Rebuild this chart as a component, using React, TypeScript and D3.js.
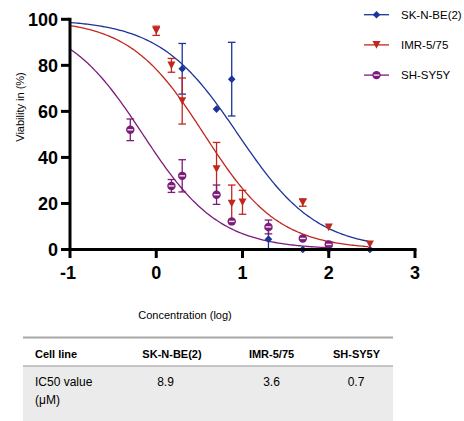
import React from "react";
import * as d3 from "d3";

// ---- data ----
const seriesNames = ["SK-N-BE(2)", "IMR-5/75", "SH-SY5Y"];
const seriesColors = ["#1c3399", "#c0281e", "#7a1c78"];

const skX = [0.301, 0.699, 0.875, 1.301, 1.699, 2.0, 2.477];
const skY = [78.5, 61, 74, 4.5, 0, 0, 0];
const skErr = [11, 0, 16, 4.5, 0, 0, 0];

const imrX = [0, 0.176, 0.301, 0.699, 0.875, 1.0, 1.699, 2.0, 2.477];
const imrY = [95, 80, 64.5, 35, 20, 20.5, 20.4, 9.6, 2.3];
const imrErr = [2, 3, 10, 11.5, 8, 5.2, 1.6, 0, 0];

const shX = [-0.301, 0.176, 0.301, 0.699, 0.875, 1.301, 1.699, 2.0];
const shY = [52, 27.6, 32, 23.8, 12.2, 9.8, 4.8, 2.2];
const shErr = [4.7, 2.8, 7, 4.2, 0, 3, 0, 1];

// fitted dose-response parameters
const fitLogIC50 = [0.949, 0.556, -0.155];
const fitHill = [0.95, 1.0, 0.98];
const fitXMax = [2.477, 2.477, 2.0];

const xTicks = [-1, 0, 1, 2, 3];
const yTicks = [0, 20, 40, 60, 80, 100];

const tableHeader = ["Cell line", "SK-N-BE(2)", "IMR-5/75", "SH-SY5Y"];
const tableRowLabel = ["IC50 value", "(\u03BCM)"];
const ic50Values = ["8.9", "3.6", "0.7"];

const FONT = "'Liberation Sans', Arial, sans-serif";

export default function App() {
  const x = d3.scaleLinear().domain([-1, 3]).range([70, 415]);
  const y = d3.scaleLinear().domain([0, 100]).range([249.5, 19.3]);

  const series = [
    { xs: skX, ys: skY, errs: skErr },
    { xs: imrX, ys: imrY, errs: imrErr },
    { xs: shX, ys: shY, errs: shErr },
  ];

  const line = d3
    .line<[number, number]>()
    .x((d) => x(d[0]))
    .y((d) => y(d[1]))
    .curve(d3.curveMonotoneX);

  const curvePath = (i: number) => {
    const pts: [number, number][] = d3
      .range(-1, fitXMax[i] + 0.0001, 0.02)
      .map((v) => [v, 100 / (1 + Math.pow(10, (v - fitLogIC50[i]) * fitHill[i]))]);
    return line(pts) || "";
  };

  const marker = (i: number, cx: number, cy: number, key: string) => {
    const c = seriesColors[i];
    if (i === 0) {
      const r = 3.8;
      return (
        <path
          key={key}
          d={`M${cx},${cy - r}L${cx + r},${cy}L${cx},${cy + r}L${cx - r},${cy}Z`}
          fill={c}
        />
      );
    }
    if (i === 1) {
      const w = 4, h = 3.8;
      return (
        <path
          key={key}
          d={`M${cx - w},${cy - h}L${cx + w},${cy - h}L${cx},${cy + h}Z`}
          fill={c}
        />
      );
    }
    return (
      <g key={key}>
        <circle cx={cx} cy={cy} r={4.2} fill={c} />
        <line x1={cx - 2.8} x2={cx + 2.8} y1={cy} y2={cy} stroke="#f2e6f2" strokeWidth={1.4} />
      </g>
    );
  };

  const colCenters = [172, 271.5, 356.5];
  const valCenters = [165.5, 271.5, 356];

  return (
    <svg
      width={464}
      height={421}
      style={{ position: "absolute", left: 0, top: 0, background: "#fff" }}
      fontFamily={FONT}
    >
      {/* curves */}
      {seriesNames.map((_, i) => (
        <path key={"c" + i} d={curvePath(i)} fill="none" stroke={seriesColors[i]} strokeWidth={1.3} />
      ))}

      {/* error bars and markers */}
      {series.map((s, i) =>
        s.xs.map((xv, j) => {
          const e = s.errs[j];
          const cx = x(xv);
          const top = y(Math.min(100, s.ys[j] + e));
          const bot = y(Math.max(0, s.ys[j] - e));
          return e > 0 ? (
            <g key={`e${i}-${j}`} stroke={seriesColors[i]} strokeWidth={1.3}>
              <line x1={cx} x2={cx} y1={top} y2={bot} />
              <line x1={cx - 3.8} x2={cx + 3.8} y1={top} y2={top} />
              {s.ys[j] - e > 0 && <line x1={cx - 3.8} x2={cx + 3.8} y1={bot} y2={bot} />}
            </g>
          ) : null;
        })
      )}
      {series.map((s, i) => s.xs.map((xv, j) => marker(i, x(xv), y(s.ys[j]), `m${i}-${j}`)))}

      {/* axes */}
      <g stroke="#000" strokeWidth={3}>
        <line x1={70} x2={70} y1={y(100) - 1.5} y2={y(0) + 1.5} />
        <line x1={68.5} x2={416.5} y1={y(0)} y2={y(0)} />
        {yTicks.map((t) => (
          <line key={"yt" + t} x1={61} x2={70} y1={y(t)} y2={y(t)} />
        ))}
        {xTicks.map((t) => (
          <line key={"xt" + t} x1={x(t)} x2={x(t)} y1={y(0)} y2={y(0) + 8.5} />
        ))}
      </g>
      {yTicks.map((t) => (
        <text
          key={"yl" + t}
          x={58}
          y={y(t) + 6.3}
          textAnchor="end"
          fontSize={18}
          fontWeight="bold"
        >
          {t}
        </text>
      ))}
      {xTicks.map((t) => (
        <text
          key={"xl" + t}
          x={x(t) + (t < 0 ? -2 : 0)}
          y={278.5}
          textAnchor="middle"
          fontSize={18}
          fontWeight="bold"
        >
          {t}
        </text>
      ))}

      {/* axis titles */}
      <text x={185} y={319} textAnchor="middle" fontSize={11}>
        Concentration (log)
      </text>
      <text
        transform="translate(24,107) rotate(-90)"
        textAnchor="middle"
        fontSize={11}
      >
        Viability in (%)
      </text>

      {/* legend */}
      {seriesNames.map((n, i) => {
        const ly = 14.7 + i * 30.2;
        return (
          <g key={"lg" + i}>
            <line x1={364} x2={389} y1={ly} y2={ly} stroke={seriesColors[i]} strokeWidth={1.3} />
            {marker(i, 376.5, ly, "lm" + i)}
            <text x={401} y={ly + 4} fontSize={11.5}>
              {n}
            </text>
          </g>
        );
      })}

      {/* table */}
      <rect x={23} y={366} width={370} height={55} fill="#ebebeb" />
      <line x1={23} x2={393} y1={337.5} y2={337.5} stroke="#a8a8a8" strokeWidth={2} />
      <line x1={23} x2={393} y1={366} y2={366} stroke="#b4b4b4" strokeWidth={1.5} />
      <text x={35} y={357.5} fontSize={11} fontWeight="bold">
        {tableHeader[0]}
      </text>
      {tableHeader.slice(1).map((h, i) => (
        <text key={"th" + i} x={colCenters[i]} y={357.5} fontSize={11} fontWeight="bold" textAnchor="middle">
          {h}
        </text>
      ))}
      {tableRowLabel.map((t, i) => (
        <text key={"rl" + i} x={35} y={385.5 + i * 18} fontSize={12}>
          {t}
        </text>
      ))}
      {ic50Values.map((v, i) => (
        <text key={"v" + i} x={valCenters[i]} y={385.5} fontSize={12} textAnchor="middle">
          {v}
        </text>
      ))}
    </svg>
  );
}
